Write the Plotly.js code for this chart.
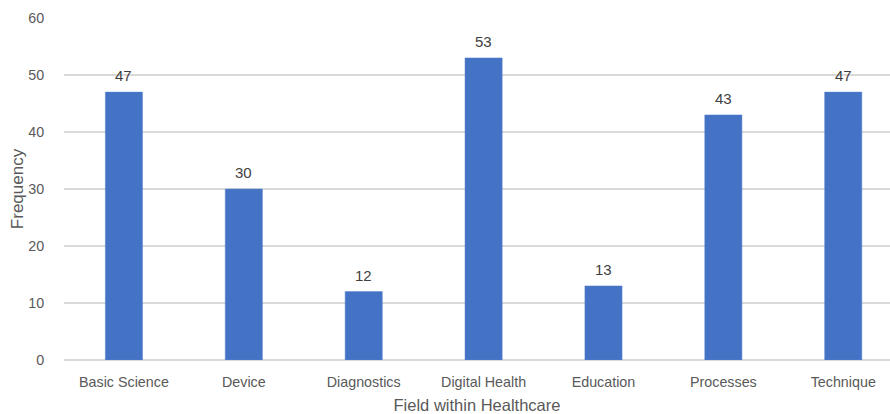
<!DOCTYPE html>
<html>
<head>
<meta charset="utf-8">
<script src="https://cdn.plot.ly/plotly-3.0.1.min.js"></script>
<style>html,body{margin:0;padding:0;background:#fff;}#chart{width:890px;height:414px;}</style>
</head>
<body>
<div id="chart"></div>
<script>
const categories = ["Basic Science", "Device", "Diagnostics", "Digital Health", "Education", "Processes", "Technique"];
const frequency = [47, 30, 12, 53, 13, 43, 47];
const yTicks = [0, 10, 20, 30, 40, 50, 60];

const font = "Liberation Sans, Arial, sans-serif";
const labels = categories.map((c, i) => ({
  x: c, y: frequency[i], xref: "x", yref: "y",
  text: String(frequency[i]), showarrow: false,
  yanchor: "bottom", yshift: 6,
  font: {family: font, size: 15, color: "#404040"}
}));

Plotly.newPlot("chart", [{
  type: "bar",
  x: categories,
  y: frequency,
  marker: {color: "#4472C4", line: {color: "#5b86d0", width: 0.5}},
  width: 0.31,
  hoverinfo: "none"
}], {
  width: 890, height: 414,
  margin: {l: 64, r: 0, t: 18, b: 54},
  paper_bgcolor: "#fff", plot_bgcolor: "#fff",
  showlegend: false,
  font: {family: font, size: 13, color: "#595959"},
  annotations: labels,
  xaxis: {
    type: "category",
    range: [-0.5, 6.39],
    showgrid: false, zeroline: false, showline: false,
    ticks: "outside", ticklen: 9, tickcolor: "rgba(0,0,0,0)",
    tickfont: {family: font, size: 14.3, color: "#595959"},
    title: {text: "Field within Healthcare", font: {family: font, size: 16.5, color: "#595959"}, standoff: 11}
  },
  yaxis: {
    range: [0, 60],
    tickvals: yTicks,
    showgrid: true, gridcolor: "#d9d9d9", gridwidth: 1.2,
    zeroline: true, zerolinecolor: "#d9d9d9", zerolinewidth: 1.2,
    showline: false,
    ticks: "outside", ticklen: 16, tickcolor: "rgba(0,0,0,0)",
    tickfont: {family: font, size: 14.3, color: "#595959"},
    title: {text: "Frequency", font: {family: font, size: 17, color: "#595959"}, standoff: 0}
  }
}, {staticPlot: true, displayModeBar: false});
</script>
</body>
</html>
